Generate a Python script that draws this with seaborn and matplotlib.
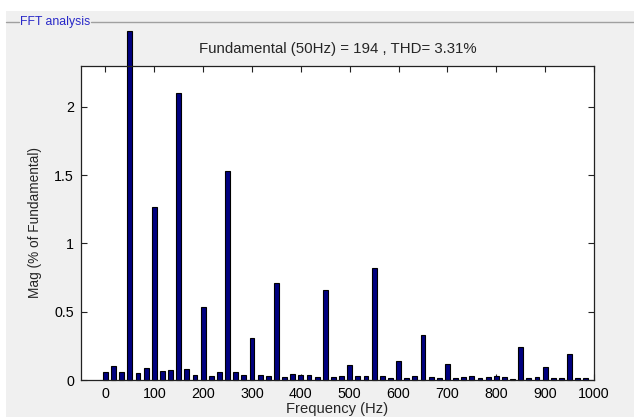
import matplotlib
matplotlib.use("Agg")
import matplotlib.pyplot as plt
import seaborn as sns
import pandas as pd
from matplotlib.patches import Rectangle
from matplotlib.lines import Line2D

# Frequencies (Hz) of the FFT bins shown
freq = [0, 16.7, 33.3, 50, 66.7, 83.3, 100, 116.7, 133.3, 150, 166.7, 183.3,
        200, 216.7, 233.3, 250, 266.7, 283.3, 300, 316.7, 333.3, 350, 366.7, 383.3,
        400, 416.7, 433.3, 450, 466.7, 483.3, 500, 516.7, 533.3, 550, 566.7, 583.3,
        600, 616.7, 633.3, 650, 666.7, 683.3, 700, 716.7, 733.3, 750, 766.7, 783.3,
        800, 816.7, 833.3, 850, 866.7, 883.3, 900, 916.7, 933.3, 950, 966.7, 983.3]
# Magnitude (% of fundamental)
mag = [0.057, 0.103, 0.057, 2.56, 0.049, 0.086, 1.27, 0.064, 0.071, 2.10, 0.078, 0.039,
       0.537, 0.032, 0.061, 1.53, 0.057, 0.039, 0.31, 0.039, 0.029, 0.71, 0.022, 0.047,
       0.034, 0.039, 0.022, 0.66, 0.022, 0.032, 0.11, 0.032, 0.032, 0.82, 0.032, 0.015,
       0.142, 0.015, 0.032, 0.33, 0.022, 0.015, 0.118, 0.015, 0.022, 0.029, 0.015, 0.022,
       0.032, 0.022, 0.007, 0.24, 0.015, 0.022, 0.095, 0.015, 0.015, 0.191, 0.015, 0.015]

xticks = [0, 100, 200, 300, 400, 500, 600, 700, 800, 900, 1000]
yticks = [0, 0.5, 1, 1.5, 2]
ytick_labels = ["0", "0.5", "1", "1.5", "2"]

title_text = "Fundamental (50Hz) = 194 , THD= 3.31%"
panel_text = "FFT analysis"

sns.set_theme(style="white")
plt.rcParams['font.family'] = ['Liberation Sans', 'DejaVu Sans']

W, H = 634, 417
fig = plt.figure(figsize=(W / 100, H / 100), dpi=100)
fig.patch.set_facecolor("white")

# gray panel background
bg = Rectangle((6 / W, 0), 1 - 6 / W, (H - 11) / H,
               transform=fig.transFigure, facecolor="#F0F0F0",
               edgecolor="none", zorder=-10)
fig.add_artist(bg)
# panel title line
yl = 1 - 22 / H
fig.add_artist(Line2D([6 / W, 19 / W], [yl, yl], transform=fig.transFigure,
                      color="#A0A0A0", lw=1, zorder=-5))
fig.add_artist(Line2D([91 / W, 1.0], [yl, yl], transform=fig.transFigure,
                      color="#A0A0A0", lw=1, zorder=-5))
fig.text(20 / W, yl, panel_text, color="#2828C8", fontsize=8.8,
         va="center", ha="left")

ax = fig.add_axes([81 / W, 37 / H, (594 - 81) / W, (380 - 66) / H])
ax.set_zorder(1)
ax.set_facecolor("white")

df = pd.DataFrame({"freq": freq, "mag": mag})
sns.barplot(data=df, x="freq", y="mag", native_scale=True, width=0.6,
            color="#000080", saturation=1, edgecolor="black", linewidth=0.8, ax=ax)
for p in ax.patches:
    p.set_clip_on(False)

ax.set_xlim(-50, 1000)
ax.set_ylim(0, 2.3)
ax.set_xticks(xticks)
ax.set_xticklabels([str(t) for t in xticks])
ax.set_yticks(yticks)
ax.set_yticklabels(ytick_labels)
ax.tick_params(direction="in", length=4, width=0.8, top=True, right=True,
               bottom=True, left=True, labelsize=10.3, colors="#222222",
               labelcolor="black", pad=5)
for s in ax.spines.values():
    s.set_color("#222222")
    s.set_linewidth(0.9)
    s.set_zorder(5)

ax.set_xlabel("Frequency (Hz)", fontsize=10.6, labelpad=0.5)
ax.set_ylabel("Mag (% of Fundamental)", fontsize=9.8, labelpad=9)
ax.set_title(title_text, fontsize=10.8, pad=9)

fig.savefig("out.png", dpi=100, facecolor=fig.get_facecolor())
